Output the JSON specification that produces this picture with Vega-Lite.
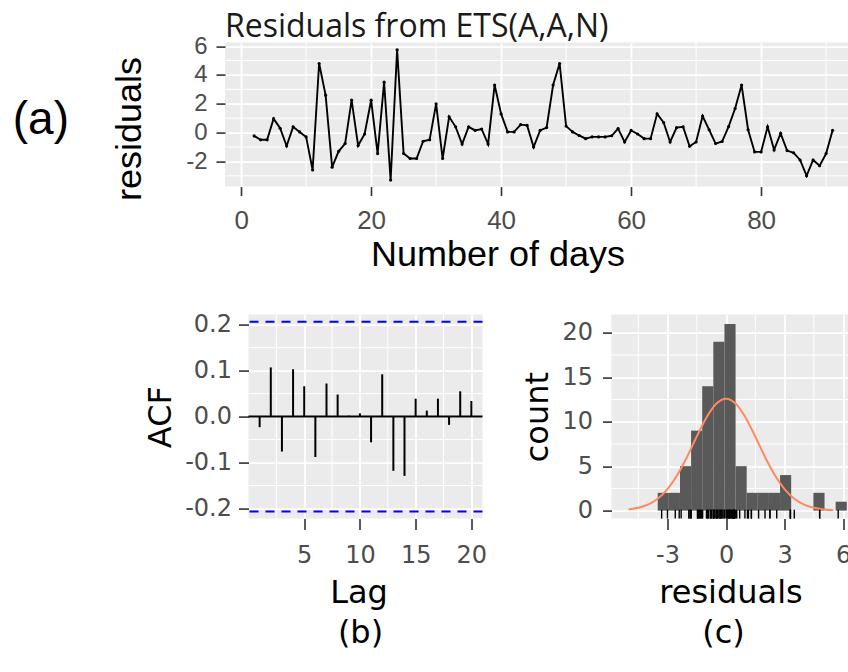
{
  "$schema": "https://vega.github.io/schema/vega-lite/v6.json",
  "padding": {"left": 12, "top": 10.6, "right": 0, "bottom": 10},
  "background": "#FFFFFF",
  "config": {
    "view": {"stroke": null},
    "axis": {"domain": false, "grid": true, "gridColor": "#FFFFFF", "gridWidth": 1.8, "tickColor": "#333333", "tickWidth": 1.6, "labelColor": "#4D4D4D", "titleColor": "#000000", "titleFontWeight": "normal", "labelOverlap": false, "labelFlush": false, "tickCount": 20}
  },
  "title": {"text": "Residuals from ETS(A,A,N)", "anchor": "start", "frame": "group", "font": "Open Sans", "fontSize": 32, "fontWeight": "normal", "color": "#1A1A1A", "offset": -10},
  "datasets": {
    "resid": [
      {"day": 2, "residual": -0.23}, {"day": 3, "residual": -0.5}, {"day": 4, "residual": -0.5}, {"day": 5, "residual": 0.97},
      {"day": 6, "residual": 0.3}, {"day": 7, "residual": -0.93}, {"day": 8, "residual": 0.4}, {"day": 9, "residual": 0.05},
      {"day": 10, "residual": -0.3}, {"day": 11, "residual": -2.6}, {"day": 12, "residual": 4.8}, {"day": 13, "residual": 2.6},
      {"day": 14, "residual": -2.4}, {"day": 15, "residual": -1.3}, {"day": 16, "residual": -0.76}, {"day": 17, "residual": 2.25},
      {"day": 18, "residual": -0.9}, {"day": 19, "residual": -0.1}, {"day": 20, "residual": 2.25}, {"day": 21, "residual": -1.46},
      {"day": 22, "residual": 3.5}, {"day": 23, "residual": -3.3}, {"day": 24, "residual": 5.75}, {"day": 25, "residual": -1.45},
      {"day": 26, "residual": -1.8}, {"day": 27, "residual": -1.8}, {"day": 28, "residual": -0.6}, {"day": 29, "residual": -0.5},
      {"day": 30, "residual": 2.0}, {"day": 31, "residual": -1.8}, {"day": 32, "residual": 1.1}, {"day": 33, "residual": 0.4},
      {"day": 34, "residual": -0.8}, {"day": 35, "residual": 0.4}, {"day": 36, "residual": 0.15}, {"day": 37, "residual": 0.25},
      {"day": 38, "residual": -0.8}, {"day": 39, "residual": 3.3}, {"day": 40, "residual": 1.3}, {"day": 41, "residual": 0.05},
      {"day": 42, "residual": 0.05}, {"day": 43, "residual": 0.55}, {"day": 44, "residual": 0.5}, {"day": 45, "residual": -1.0},
      {"day": 46, "residual": 0.15}, {"day": 47, "residual": 0.35}, {"day": 48, "residual": 3.3}, {"day": 49, "residual": 4.8},
      {"day": 50, "residual": 0.45}, {"day": 51, "residual": 0.05}, {"day": 52, "residual": -0.2}, {"day": 53, "residual": -0.42},
      {"day": 54, "residual": -0.3}, {"day": 55, "residual": -0.3}, {"day": 56, "residual": -0.3}, {"day": 57, "residual": -0.22},
      {"day": 58, "residual": 0.28}, {"day": 59, "residual": -0.65}, {"day": 60, "residual": 0.15}, {"day": 61, "residual": -0.1},
      {"day": 62, "residual": -0.42}, {"day": 63, "residual": -0.42}, {"day": 64, "residual": 1.3}, {"day": 65, "residual": 0.7},
      {"day": 66, "residual": -0.65}, {"day": 67, "residual": 0.35}, {"day": 68, "residual": 0.4}, {"day": 69, "residual": -0.95},
      {"day": 70, "residual": -0.65}, {"day": 71, "residual": 1.15}, {"day": 72, "residual": 0.2}, {"day": 73, "residual": -0.76},
      {"day": 74, "residual": -0.62}, {"day": 75, "residual": 0.42}, {"day": 76, "residual": 1.67}, {"day": 77, "residual": 3.3},
      {"day": 78, "residual": 0.2}, {"day": 79, "residual": -1.34}, {"day": 80, "residual": -1.34}, {"day": 81, "residual": 0.4},
      {"day": 82, "residual": -1.2}, {"day": 83, "residual": -0.05}, {"day": 84, "residual": -1.25}, {"day": 85, "residual": -1.4},
      {"day": 86, "residual": -1.9}, {"day": 87, "residual": -3.0}, {"day": 88, "residual": -1.9}, {"day": 89, "residual": -2.3},
      {"day": 90, "residual": -1.46}, {"day": 91, "residual": 0.16}
    ],
    "acf": [
      {"lag": 1, "acf": -0.023}, {"lag": 2, "acf": 0.107}, {"lag": 3, "acf": -0.076}, {"lag": 4, "acf": 0.103},
      {"lag": 5, "acf": 0.066}, {"lag": 6, "acf": -0.088}, {"lag": 7, "acf": 0.072}, {"lag": 8, "acf": 0.048},
      {"lag": 9, "acf": 0.002}, {"lag": 10, "acf": 0.007}, {"lag": 11, "acf": -0.056}, {"lag": 12, "acf": 0.092},
      {"lag": 13, "acf": -0.118}, {"lag": 14, "acf": -0.129}, {"lag": 15, "acf": 0.039}, {"lag": 16, "acf": 0.013},
      {"lag": 17, "acf": 0.039}, {"lag": 18, "acf": -0.018}, {"lag": 19, "acf": 0.055}, {"lag": 20, "acf": 0.034}
    ],
    "ci": [{"bound": 0.2066}, {"bound": -0.2066}],
    "hist": [
      {"start": -3.5, "end": -2.93, "count": 2}, {"start": -2.93, "end": -2.36, "count": 2}, {"start": -2.36, "end": -1.79, "count": 5},
      {"start": -1.79, "end": -1.22, "count": 9}, {"start": -1.22, "end": -0.65, "count": 14}, {"start": -0.65, "end": -0.08, "count": 19},
      {"start": -0.08, "end": 0.49, "count": 21}, {"start": 0.49, "end": 1.06, "count": 5}, {"start": 1.06, "end": 1.63, "count": 2},
      {"start": 1.63, "end": 2.2, "count": 2}, {"start": 2.2, "end": 2.77, "count": 2}, {"start": 2.77, "end": 3.34, "count": 4},
      {"start": 3.34, "end": 3.91, "count": 0}, {"start": 3.91, "end": 4.48, "count": 0}, {"start": 4.48, "end": 5.05, "count": 2},
      {"start": 5.05, "end": 5.62, "count": 0}, {"start": 5.62, "end": 6.19, "count": 1}
    ],
    "normal": [
      {"x": -5.0, "y": 0.13}, {"x": -4.5, "y": 0.31}, {"x": -4.0, "y": 0.67}, {"x": -3.5, "y": 1.33}, {"x": -3.0, "y": 2.41},
      {"x": -2.5, "y": 4.0}, {"x": -2.0, "y": 6.04}, {"x": -1.5, "y": 8.34}, {"x": -1.0, "y": 10.49}, {"x": -0.5, "y": 12.03},
      {"x": 0.0, "y": 12.6}, {"x": 0.5, "y": 12.03}, {"x": 1.0, "y": 10.49}, {"x": 1.5, "y": 8.34}, {"x": 2.0, "y": 6.04},
      {"x": 2.5, "y": 4.0}, {"x": 3.0, "y": 2.41}, {"x": 3.5, "y": 1.33}, {"x": 4.0, "y": 0.67}, {"x": 4.5, "y": 0.31},
      {"x": 5.0, "y": 0.13}, {"x": 5.5, "y": 0.05}
    ],
    "top_minor_x": [{"v": 10}, {"v": 30}, {"v": 50}, {"v": 70}, {"v": 90}],
    "top_minor_y": [{"v": -3}, {"v": -1}, {"v": 1}, {"v": 3}, {"v": 5}],
    "acf_minor_x": [{"v": 2.5}, {"v": 7.5}, {"v": 12.5}, {"v": 17.5}],
    "acf_minor_y": [{"v": -0.15}, {"v": -0.05}, {"v": 0.05}, {"v": 0.15}],
    "hist_minor_x": [{"v": -4.5}, {"v": -1.5}, {"v": 1.5}, {"v": 4.5}],
    "hist_minor_y": [{"v": 2.5}, {"v": 7.5}, {"v": 12.5}, {"v": 17.5}]
  },
  "bounds": "flush",
  "spacing": 128,
  "vconcat": [
    {
      "width": 624.5,
      "height": 144,
      "title": {"text": "(a)", "orient": "left", "angle": 0, "align": "right", "baseline": "middle", "anchor": "middle", "frame": "group", "font": "Liberation Sans", "fontSize": 46, "fontWeight": "normal", "color": "#000000", "offset": -13.5, "dy": 5},
      "view": {"fill": "#EBEBEB", "stroke": null},
      "layer": [
        {
          "data": {"name": "top_minor_x"},
          "mark": {"type": "rule", "color": "#FFFFFF", "strokeWidth": 1},
          "encoding": {"x": {"field": "v", "type": "quantitative", "scale": {"domain": [-2.48, 93.6], "nice": false, "zero": false},
            "axis": {"values": [0, 20, 40, 60, 80], "format": "d", "tickCount": 20, "title": "Number of days", "labelOverlap": false, "labelFont": "Liberation Sans", "labelFontSize": 26, "labelPadding": 12, "tickSize": 9, "titleFont": "Liberation Sans", "titleFontSize": 36, "titlePadding": 4, "titleX": 272.5, "labelExpr": "replace(datum.label, '\u2212', '-')"}}}
        },
        {
          "data": {"name": "top_minor_y"},
          "mark": {"type": "rule", "color": "#FFFFFF", "strokeWidth": 1},
          "encoding": {"y": {"field": "v", "type": "quantitative", "scale": {"domain": [-3.75, 6.25], "nice": false, "zero": false},
            "axis": {"values": [-2, 0, 2, 4, 6], "format": "d", "tickCount": 20, "title": "residuals", "labelOverlap": false, "labelFont": "Liberation Sans", "labelFontSize": 24, "labelPadding": 9, "tickSize": 9, "titleFont": "Liberation Sans", "titleFontSize": 36, "titlePadding": 37, "titleY": 86, "labelExpr": "replace(datum.label, '\u2212', '-')"}}}
        },
        {
          "data": {"name": "resid"},
          "mark": {"type": "line", "color": "#000000", "strokeWidth": 1.9},
          "encoding": {"x": {"field": "day", "type": "quantitative"}, "y": {"field": "residual", "type": "quantitative"}}
        },
        {
          "data": {"name": "resid"},
          "mark": {"type": "circle", "color": "#000000", "size": 10, "opacity": 1},
          "encoding": {"x": {"field": "day", "type": "quantitative"}, "y": {"field": "residual", "type": "quantitative"}}
        }
      ]
    },
    {
      "bounds": "flush",
      "spacing": 22.5,
      "hconcat": [
        {"width": 1, "height": 1, "data": {"values": [{"k": 1}]}, "mark": {"type": "point", "opacity": 0}},
        {
          "bounds": "flush",
          "spacing": 129,
          "hconcat": [
            {
              "width": 234,
              "height": 204,
              "title": {"text": "(b)", "orient": "bottom", "anchor": "middle", "frame": "group", "font": "DejaVu Sans", "fontSize": 32, "fontWeight": "normal", "color": "#000000", "offset": 9, "dx": -5},
              "view": {"fill": "#EBEBEB", "stroke": null},
              "layer": [
                {
                  "data": {"name": "acf_minor_x"},
                  "mark": {"type": "rule", "color": "#FFFFFF", "strokeWidth": 1},
                  "encoding": {"x": {"field": "v", "type": "quantitative", "scale": {"domain": [0, 21], "nice": false, "zero": false},
                    "axis": {"values": [5, 10, 15, 20], "format": "d", "tickCount": 20, "title": "Lag", "labelOverlap": false, "labelFont": "DejaVu Sans", "labelFontSize": 24, "labelPadding": 14, "tickSize": 11, "titleFont": "DejaVu Sans", "titleFontSize": 32, "titlePadding": 10, "titleX": 110}}}
                },
                {
                  "data": {"name": "acf_minor_y"},
                  "mark": {"type": "rule", "color": "#FFFFFF", "strokeWidth": 1},
                  "encoding": {"y": {"field": "v", "type": "quantitative", "scale": {"domain": [-0.222, 0.222], "nice": false, "zero": false},
                    "axis": {"values": [-0.2, -0.1, 0, 0.1, 0.2], "tickCount": 20, "format": ".1f", "title": "ACF", "labelOverlap": false, "labelFont": "DejaVu Sans", "labelFontSize": 24, "labelPadding": 7, "tickSize": 10, "titleFont": "DejaVu Sans", "titleFontSize": 32, "titlePadding": 7, "labelExpr": "replace(datum.label, '\u2212', '-')"}}}
                },
                {
                  "data": {"values": [{"zero": 0}]},
                  "mark": {"type": "rule", "color": "#000000", "strokeWidth": 2},
                  "encoding": {"y": {"field": "zero", "type": "quantitative"}}
                },
                {
                  "data": {"name": "ci"},
                  "mark": {"type": "rule", "color": "#0000FF", "strokeWidth": 2, "strokeDash": [9, 7]},
                  "encoding": {"y": {"field": "bound", "type": "quantitative"}}
                },
                {
                  "data": {"name": "acf"},
                  "mark": {"type": "rule", "color": "#000000", "strokeWidth": 2},
                  "encoding": {"x": {"field": "lag", "type": "quantitative"}, "y": {"field": "acf", "type": "quantitative"}, "y2": {"datum": 0}}
                }
              ]
            },
            {
              "width": 238,
              "height": 204,
              "title": {"text": "(c)", "orient": "bottom", "anchor": "middle", "frame": "group", "font": "DejaVu Sans", "fontSize": 32, "fontWeight": "normal", "color": "#000000", "offset": 9, "dx": -7},
              "view": {"fill": "#EBEBEB", "stroke": null},
              "layer": [
                {
                  "data": {"name": "hist_minor_x"},
                  "mark": {"type": "rule", "color": "#FFFFFF", "strokeWidth": 1},
                  "encoding": {"x": {"field": "v", "type": "quantitative", "scale": {"domain": [-5.87, 6.33], "nice": false, "zero": false},
                    "axis": {"values": [-3, 0, 3, 6], "format": "d", "tickCount": 20, "title": "residuals", "labelOverlap": false, "labelFont": "DejaVu Sans", "labelFontSize": 24, "labelPadding": 14, "tickSize": 11, "titleFont": "DejaVu Sans", "titleFontSize": 32, "titlePadding": 10, "labelExpr": "replace(datum.label, '\u2212', '-')"}}}
                },
                {
                  "data": {"name": "hist_minor_y"},
                  "mark": {"type": "rule", "color": "#FFFFFF", "strokeWidth": 1},
                  "encoding": {"y": {"field": "v", "type": "quantitative", "scale": {"domain": [-0.9, 22.06], "nice": false, "zero": false},
                    "axis": {"values": [0, 5, 10, 15, 20], "format": "d", "tickCount": 20, "title": "count", "labelOverlap": false, "labelFont": "DejaVu Sans", "labelFontSize": 24, "labelPadding": 10, "tickSize": 9, "titleFont": "DejaVu Sans", "titleFontSize": 32, "titlePadding": 7}}}
                },
                {
                  "data": {"name": "hist"},
                  "mark": {"type": "rect", "color": "#595959"},
                  "encoding": {"x": {"field": "start", "type": "quantitative"}, "x2": {"field": "end"}, "y": {"field": "count", "type": "quantitative"}, "y2": {"datum": 0}}
                },
                {
                  "data": {"name": "normal"},
                  "mark": {"type": "line", "color": "#FF8A62", "strokeWidth": 2, "interpolate": "monotone"},
                  "encoding": {"x": {"field": "x", "type": "quantitative"}, "y": {"field": "y", "type": "quantitative"}}
                },
                {
                  "data": {"name": "resid"},
                  "mark": {"type": "rule", "color": "#000000", "strokeWidth": 1.4},
                  "encoding": {"x": {"field": "residual", "type": "quantitative"}, "y": {"datum": -0.9}, "y2": {"datum": 0.1}}
                }
              ]
            }
          ]
        }
      ]
    }
  ]
}
